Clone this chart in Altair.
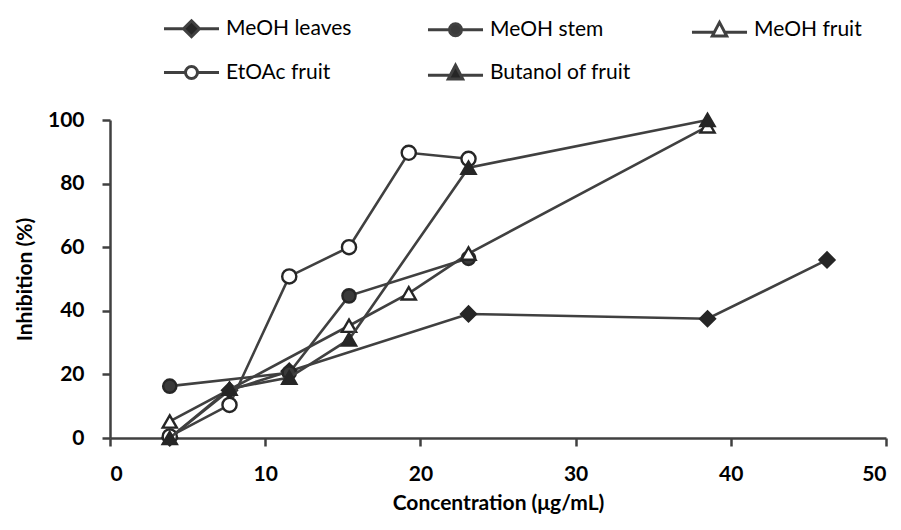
import altair as alt
import pandas as pd

series_names = ["MeOH leaves", "MeOH stem", "MeOH fruit", "EtOAc fruit", "Butanol of fruit"]

leaves_x = [3.85, 7.7, 11.55, 23.1, 38.5, 46.2]
leaves_y = [0, 15, 21, 39, 37.5, 56]
stem_x = [3.85, 11.55, 15.4, 23.1]
stem_y = [16.3, 20.5, 44.7, 56.5]
fruit_x = [3.85, 15.4, 19.25, 23.1, 38.5]
fruit_y = [5.2, 35.3, 45.5, 58, 98]
etoac_x = [3.85, 7.7, 11.55, 15.4, 19.25, 23.1]
etoac_y = [0.5, 10.4, 50.8, 60, 89.7, 87.8]
butanol_x = [3.85, 7.7, 11.55, 15.4, 23.1, 38.5]
butanol_y = [0, 15.5, 19, 31, 85, 100]

xs = [leaves_x, stem_x, fruit_x, etoac_x, butanol_x]
ys = [leaves_y, stem_y, fruit_y, etoac_y, butanol_y]

rows = []
for name, xv, yv in zip(series_names, xs, ys):
    for a, b in zip(xv, yv):
        rows.append({"series": name, "conc": a, "inhib": b})
df = pd.DataFrame(rows)

fills = ["#262626", "#3a3a3a", "white", "white", "#262626"]
shapes = ["diamond", "circle", "triangle-up", "circle", "triangle-up"]
sizes = [220, 175, 200, 200, 200]

L = 3.44
legend_paths = [
    f"M-{L},0H-1M1,0H{L}M0,-1L1,0L0,1L-1,0Z",
    f"M-{L},0H-0.75M0.75,0H{L}M0.75,0A0.75,0.75,0,1,1,-0.75,0A0.75,0.75,0,1,1,0.75,0Z",
    f"M-{L},0.35H-0.77M0.77,0.35H{L}M0,-0.9L0.9,0.8L-0.9,0.8Z",
    f"M-{L},0H-0.75M0.75,0H{L}M0.75,0A0.75,0.75,0,1,1,-0.75,0A0.75,0.75,0,1,1,0.75,0Z",
    f"M-{L},0.35H-0.77M0.77,0.35H{L}M0,-0.9L0.9,0.8L-0.9,0.8Z",
]

LINE = "#404040"

x_enc = alt.X("conc:Q", title="Concentration (μg/mL)",
              scale=alt.Scale(domain=[0, 50], nice=False),
              axis=alt.Axis(values=[0, 10, 20, 30, 40, 50], grid=False))
y_enc = alt.Y("inhib:Q", title="Inhibition (%)",
              scale=alt.Scale(domain=[0, 100], nice=False),
              axis=alt.Axis(values=[0, 20, 40, 60, 80, 100], grid=False))

base = alt.Chart(df)

layers = []
for name, shp, fc, sz in zip(series_names, shapes, fills, sizes):
    sub = base.transform_filter(alt.datum.series == name)
    layers.append(sub.mark_line(color=LINE, strokeWidth=2.6).encode(x=x_enc, y=y_enc, order="conc:Q"))
    layers.append(sub.mark_point(shape=shp, fill=fc, filled=True, stroke="#262626",
                                 strokeWidth=2.4, opacity=1, size=sz).encode(x=x_enc, y=y_enc))

leg = alt.Legend(title=None, orient="none", legendX=71, legendY=-102,
                 direction="horizontal", columns=3, gridAlign="all",
                 columnPadding=54, rowPadding=16,
                 symbolSize=256, symbolStrokeWidth=3, symbolStrokeColor=LINE,
                 labelOffset=24, labelFont="Lato", labelFontSize=21,
                 labelColor="black", padding=0)

legend_layer = base.transform_filter("false").mark_point(
    filled=False, strokeWidth=3, opacity=1, size=256
).encode(
    shape=alt.Shape("series:N", scale=alt.Scale(domain=series_names, range=legend_paths), legend=leg),
    fill=alt.Fill("series:N", scale=alt.Scale(domain=series_names, range=fills), legend=leg),
    stroke=alt.Stroke("series:N", scale=alt.Scale(domain=series_names, range=[LINE] * 5), legend=leg),
)

chart = alt.layer(*layers, legend_layer).properties(
    width=776, height=318,
    autosize="none",
    padding={"left": 102, "top": 112, "right": 7, "bottom": 84},
    background="white",
).configure_view(stroke=None).configure_axis(
    domainColor=LINE, domainWidth=2.5, tickColor=LINE, tickWidth=2.5, tickSize=8,
    labelFont="Lato", labelFontWeight="bold", labelFontSize=21, labelColor="black",
    titleFont="Lato", titleFontWeight="bold", titleFontSize=21, titleColor="black",
).configure_axisX(labelPadding=17, titlePadding=8).configure_axisY(labelPadding=18, titlePadding=12)

chart.save("out.html", embed_options={"renderer": "svg", "actions": False})
